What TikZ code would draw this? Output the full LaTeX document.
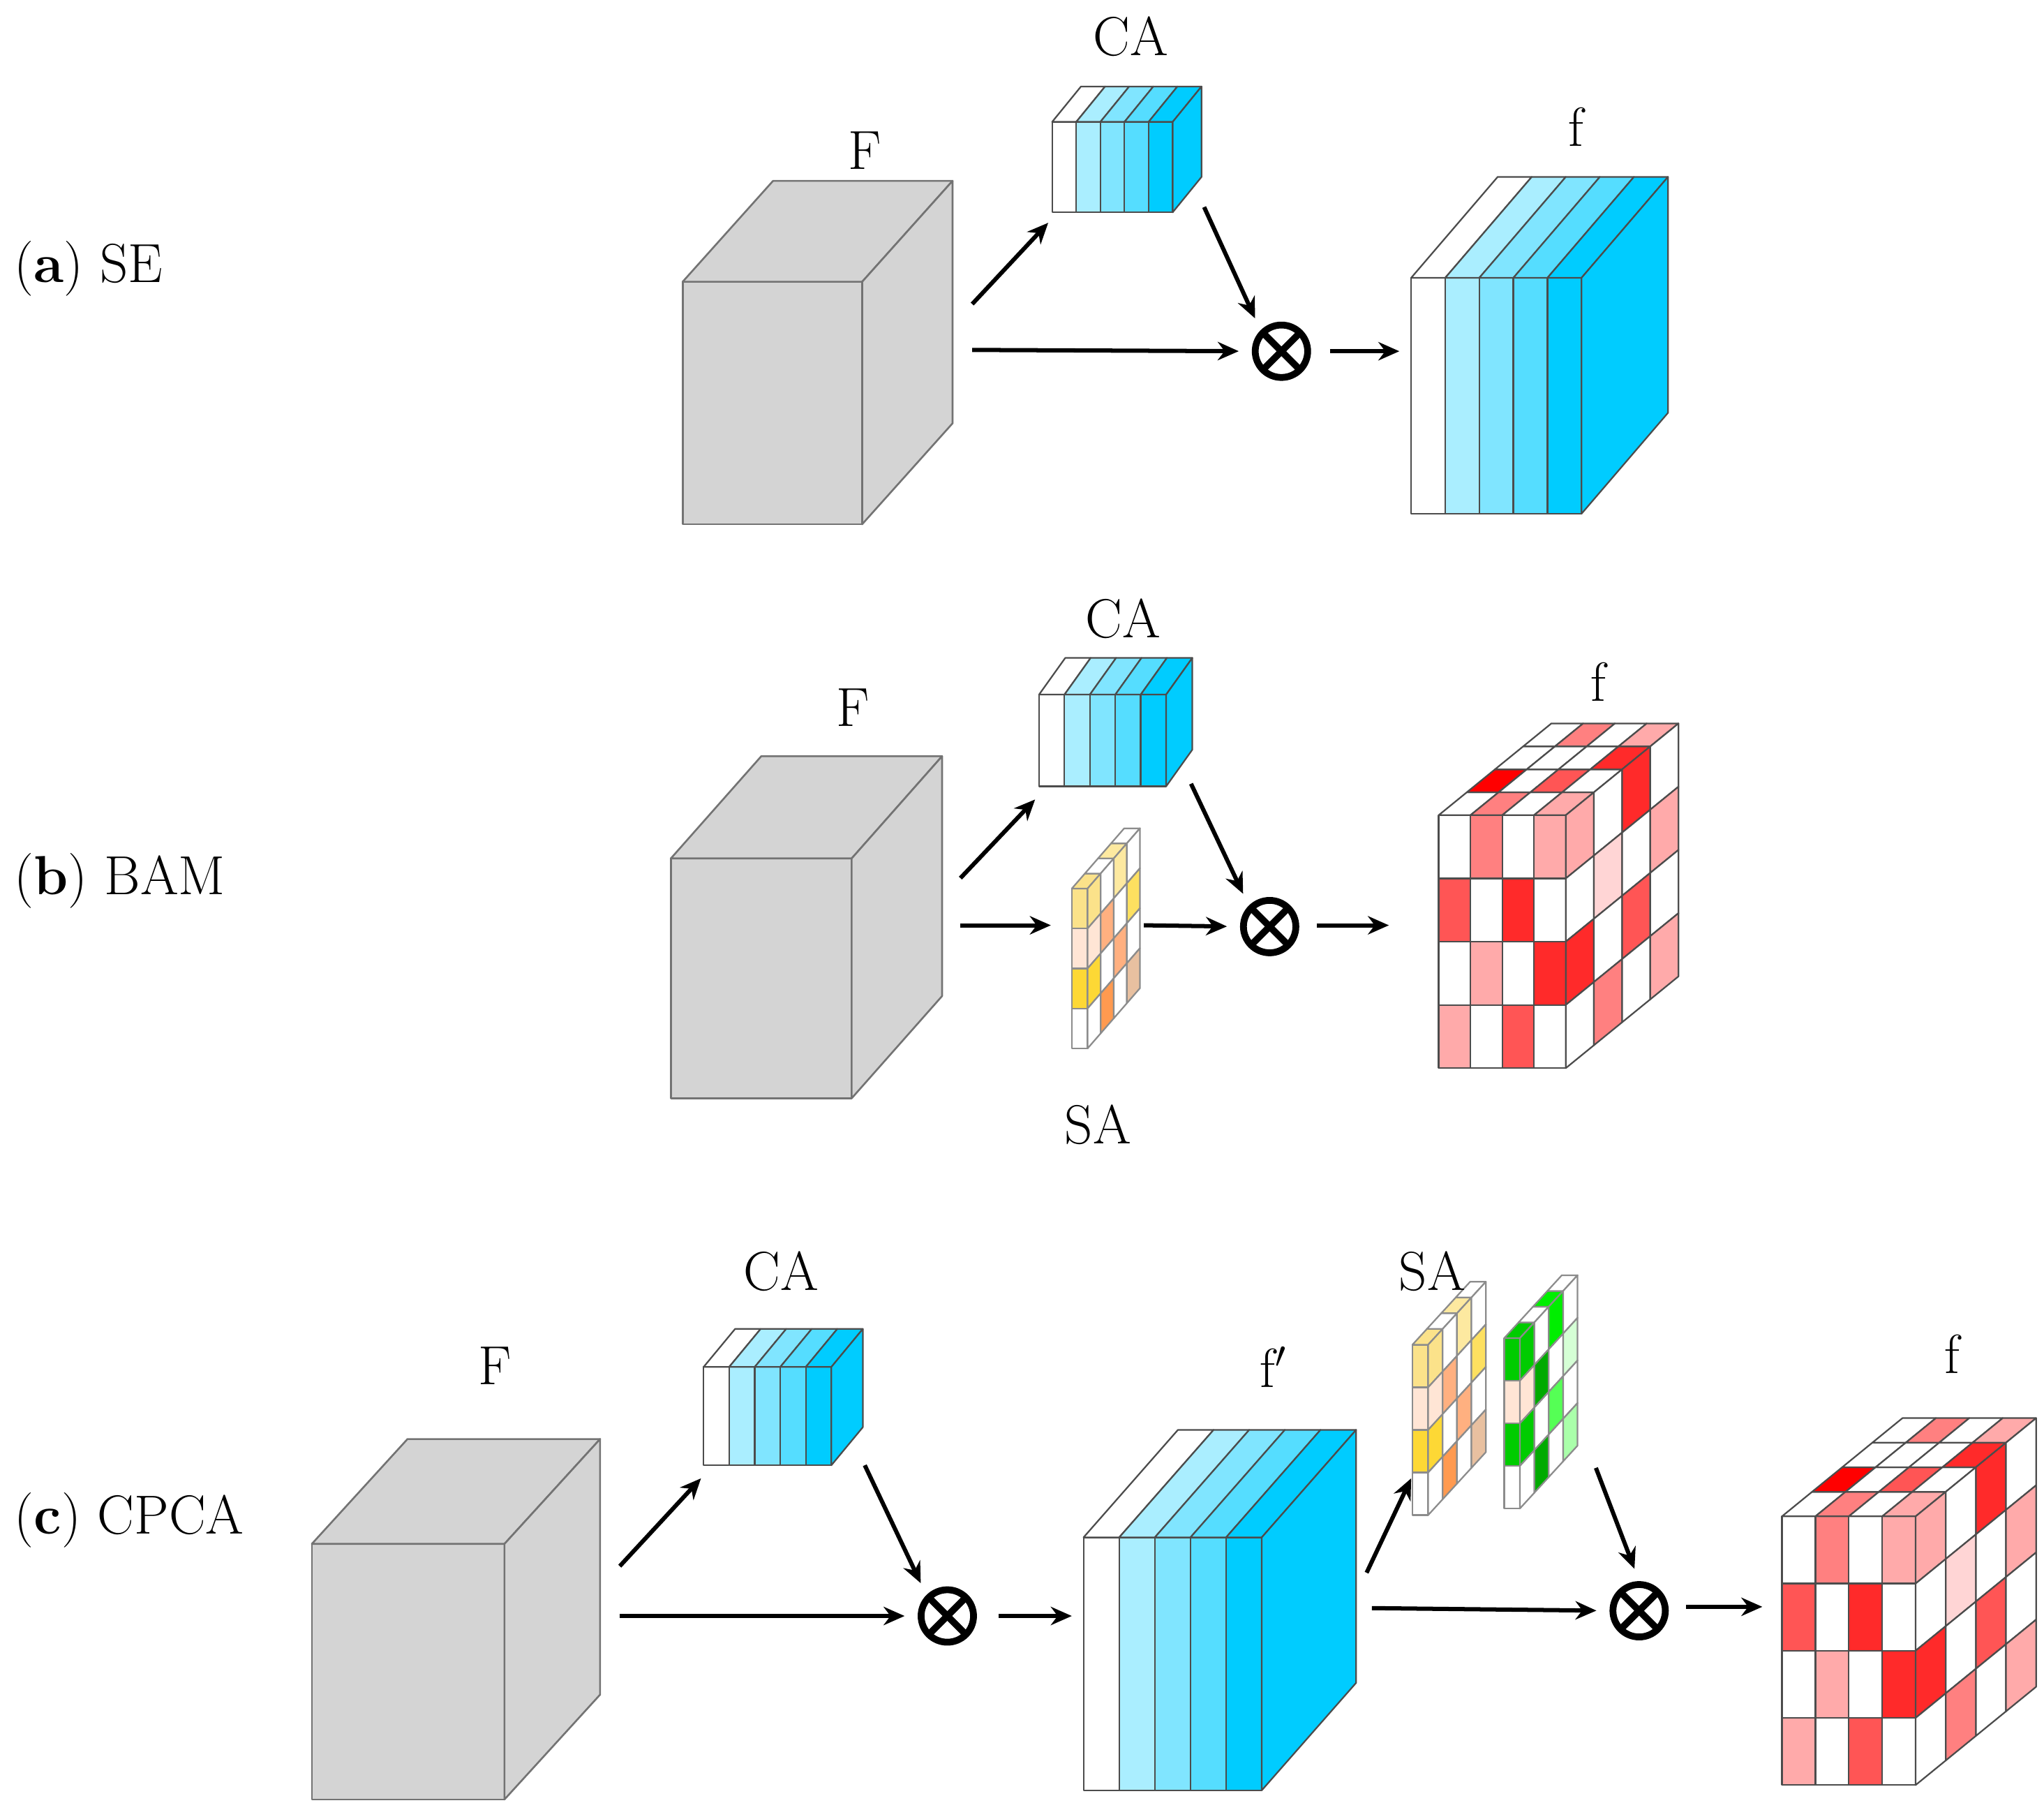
\documentclass[tikz,border=0pt]{standalone}
\usetikzlibrary{arrows.meta}
\definecolor{cubeg}{HTML}{D4D4D4}
\definecolor{sA}{HTML}{AAEEFF}\definecolor{sB}{HTML}{80E5FF}\definecolor{sC}{HTML}{55DDFF}\definecolor{sD}{HTML}{00CCFF}
\definecolor{rA}{HTML}{FFAAAA}\definecolor{rB}{HTML}{FF8080}\definecolor{rC}{HTML}{FF5555}\definecolor{rD}{HTML}{FF2A2A}\definecolor{rE}{HTML}{FF0000}\definecolor{rF}{HTML}{FFD5D5}
\definecolor{yA}{HTML}{FBE28A}\definecolor{yP}{HTML}{FFE5D5}\definecolor{yB}{HTML}{FDD835}\definecolor{oA}{HTML}{FFB080}\definecolor{oB}{HTML}{FF9A50}\definecolor{yC}{HTML}{FDE9A0}\definecolor{yD}{HTML}{FDE060}\definecolor{oC}{HTML}{E8C0A0}
\definecolor{gA}{HTML}{00CC00}\definecolor{gB}{HTML}{00AA00}\definecolor{gC}{HTML}{00EE00}\definecolor{gD}{HTML}{55FF55}\definecolor{gE}{HTML}{D5FFD5}\definecolor{gF}{HTML}{AAFFAA}
\tikzset{
 edge/.style={draw=black!70,line width=0.6pt,line join=round},
 gedge/.style={draw=black!55,line width=0.7pt,line join=round,fill=cubeg},
 arr/.style={line width=1.6pt,-{Stealth[length=8pt,width=7pt]}},
 arro/.style={arr,shorten >=5pt},
 lab/.style={font=\fontsize{21}{24}\selectfont},
 otimes/.style={circle,draw,line width=2.6pt,minimum size=20pt,inner sep=0pt,
   path picture={\draw[line width=2.6pt] (path picture bounding box.north west)--(path picture bounding box.south east) (path picture bounding box.north east)--(path picture bounding box.south west);}}
}
\usetikzlibrary{calc}
\newcommand\graycube[6]{%
 \path[gedge] (#1,#2) rectangle (#3,#4);
 \path[gedge] (#1,#2) -- ++(#5,-#6) -- ($(#3,#2)+(#5,-#6)$) -- (#3,#2) -- cycle;
 \path[gedge] (#3,#2) -- ++(#5,-#6) -- ($(#3,#4)+(#5,-#6)$) -- (#3,#4) -- cycle;}
\newcommand\slab[6]{%
 \foreach \cc [count=\qi from 0] in {white,sA,sB,sC,sD}{%
  \path[edge,fill=\cc] (#1+\qi*#3,#2) rectangle ++(#3,#4);
  \path[edge,fill=\cc] (#1+\qi*#3,#2) -- ++(#3,0) -- ++(#5,-#6) -- ++(-#3,0) -- cycle;}
 \path[edge,fill=sD] (#1+5*#3,#2) -- ++(#5,-#6) -- ++(0,#4) -- ++(-#5,#6) -- cycle;}
\newcommand\gridcube[6]{%
 \foreach \row [count=\qr from 0] in {{white,rB,white,rA},{rC,white,rD,white},{white,rA,white,rD},{rA,white,rC,white}}{%
  \foreach \cc [count=\qk from 0] in \row {\path[edge,fill=\cc] (#1+\qk*#3,#2+\qr*#4) rectangle ++(#3,#4);}}
 \foreach \row [count=\qd from 0] in {{white,rB,white,rA},{rE,white,rC,white},{white,white,white,rD},{white,rB,white,rA}}{%
  \foreach \cc [count=\qk from 0] in \row {\path[edge,fill=\cc] (#1+\qk*#3+\qd*#5,#2-\qd*#6) -- ++(#3,0) -- ++(#5,-#6) -- ++(-#3,0) -- cycle;}}
 \foreach \row [count=\qd from 0] in {{rA,white,rD,white},{white,rF,white,rB},{rD,white,rC,white},{white,rA,white,rA}}{%
  \foreach \cc [count=\qr from 0] in \row {\path[edge,fill=\cc] (#1+4*#3+\qd*#5,#2+\qr*#4-\qd*#6) -- ++(#5,-#6) -- ++(0,#4) -- ++(-#5,#6) -- cycle;}}}
\newcommand\samap[8]{%
 \foreach \cc [count=\qr from 0] in {#7}{\path[edge,draw=black!45,fill=\cc] (#1,#2+\qr*#4) rectangle ++(#3,#4);}
 \foreach \row [count=\qd from 0] in {#8}{%
  \foreach \cc [count=\qr from 0] in \row {%
   \ifnum\qr=0 \path[edge,draw=black!45,fill=\cc] (#1+\qd*#5,#2-\qd*#6) -- ++(#3,0) -- ++(#5,-#6) -- ++(-#3,0) -- cycle;\fi
   \path[edge,draw=black!45,fill=\cc] (#1+#3+\qd*#5,#2+\qr*#4-\qd*#6) -- ++(#5,-#6) -- ++(0,#4) -- ++(-#5,#6) -- cycle;}}}
\begin{document}
\begin{tikzpicture}[x=0.5pt,y=-0.5pt]
\useasboundingbox (0,0) rectangle (1560,1381);
% ---------- (a) SE
\node[lab,anchor=west] (la) at (4,205) {(\textbf{a}) SE};
\graycube{521}{215}{658}{400}{69}{77}
\node[lab] (Fa) at (660,115) {F};
\slab{803}{93}{18.4}{69}{22}{27}
\node[lab] (CAa) at (863,28) {CA};
\slab{1077}{212}{26}{180}{66}{77}
\node[lab] (fa) at (1203,97) {f};
\node[otimes] (oa) at (978,268) {};
\coordinate (a1) at (742,232); \coordinate (a2) at (800,170);
\coordinate (a3) at (742,267); \coordinate (a4) at (919,158);
\coordinate (a5) at (1015,268); \coordinate (a6) at (1068,268);
\draw[arr] (a1) -- (a2);
\draw[arro] (a3) -- (oa.west);
\draw[arro] (a4) -- (oa.north west);
\draw[arr] (a5) -- (a6);
% ---------- (b) BAM
\node[lab,anchor=west] (lb) at (4,672) {(\textbf{b}) BAM};
\graycube{512}{655}{650}{838}{69}{78}
\node[lab] (Fb) at (651,540) {F};
\slab{793}{530}{19.4}{70}{20}{28}
\node[lab] (CAb) at (857,472) {CA};
\samap{818}{678}{12}{30.5}{10}{11.5}{yA,yP,yB,white}{{yA,yP,yB,white},{white,oA,white,oB},{yC,white,oA,white},{white,yD,white,oC}}
\node[lab] (SAb) at (838,858) {SA};
\gridcube{1098}{622}{24.25}{48.25}{21.5}{17.5}
\node[lab] (fb) at (1220,520) {f};
\node[otimes] (ob) at (969,707) {};
\coordinate (b1) at (733,670); \coordinate (b2) at (790,610);
\coordinate (b3) at (733,706); \coordinate (b4) at (802,706);
\coordinate (b5) at (873,706); \coordinate (b6) at (909,598);
\coordinate (b7) at (1005,706); \coordinate (b8) at (1060,706);
\draw[arr] (b1) -- (b2);
\draw[arr] (b3) -- (b4);
\draw[arro] (b5) -- (ob.west);
\draw[arro] (b6) -- (ob.north west);
\draw[arr] (b7) -- (b8);
% ---------- (c) CPCA
\node[lab,anchor=west] (lc) at (4,1160) {(\textbf{c}) CPCA};
\graycube{238}{1178}{385}{1373}{73}{80}
\node[lab] (Fc) at (378,1042) {F};
\slab{537}{1043}{19.5}{75}{24}{29}
\node[lab] (CAc) at (596,970) {CA};
\slab{827}{1173}{27.2}{193}{72}{82}
\node[lab] (fpc) at (972,1043) {f$'$};
\samap{1078}{1026}{12}{32.5}{11}{12}{yA,yP,yB,white}{{yA,yP,yB,white},{white,oA,white,oB},{yC,white,oA,white},{white,yD,white,oC}}
\samap{1148}{1021}{12}{32.5}{11}{12}{gA,yP,gA,white}{{gA,yP,gA,white},{white,gB,white,gB},{gC,white,gD,white},{white,gE,white,gF}}
\node[lab] (SAc) at (1093,970) {SA};
\gridcube{1360}{1157}{25.5}{51.25}{23}{18.75}
\node[lab] (fc) at (1490,1033) {f};
\node[otimes] (oc1) at (723,1233) {};
\node[otimes] (oc2) at (1251,1229) {};
\coordinate (c1) at (473,1195); \coordinate (c2) at (535,1128);
\coordinate (c3) at (473,1233); \coordinate (c4) at (660,1118);
\coordinate (c5) at (762,1233); \coordinate (c6) at (818,1233);
\coordinate (c7) at (1043,1200); \coordinate (c8) at (1077,1128);
\coordinate (c9) at (1047,1227); \coordinate (c10) at (1218,1120);
\coordinate (c11) at (1287,1226); \coordinate (c12) at (1345,1226);
\draw[arr] (c1) -- (c2);
\draw[arro] (c3) -- (oc1.west);
\draw[arro] (c4) -- (oc1.north west);
\draw[arr] (c5) -- (c6);
\draw[arr] (c7) -- (c8);
\draw[arro] (c9) -- (oc2.west);
\draw[arro] (c10) -- (oc2.north);
\draw[arr] (c11) -- (c12);
\end{tikzpicture}
\end{document}
